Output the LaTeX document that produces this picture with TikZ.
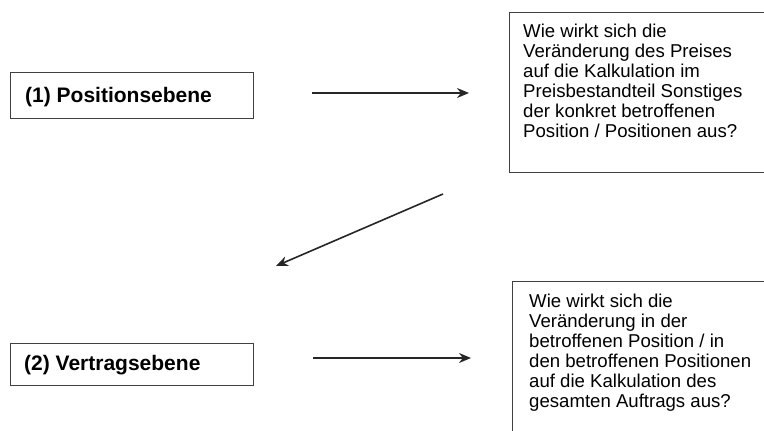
\documentclass[tikz,border=0pt]{standalone}
\usepackage{fontspec}
\setmainfont{Liberation Sans}
\usetikzlibrary{arrows.meta}
\begin{document}
\begin{tikzpicture}[x=1pt,y=-1pt,
  boxframe/.style={draw=black!75, line width=1.4pt, rectangle, inner sep=0pt},
  lefttext/.style={font=\fontsize{21}{24}\selectfont\bfseries, anchor=base west, inner sep=0pt},
  righttext/.style={font=\fontsize{18.6}{20}\selectfont, align=left, anchor=north west, inner sep=0pt},
  conn/.style={draw=black!85, line width=1.6pt, -{Stealth[length=12pt,width=10pt]}}
]
\useasboundingbox (0,0) rectangle (764,431);
% left boxes
\node[boxframe, anchor=north west, minimum width=243pt, minimum height=46pt] (b1) at (9.5,72) {};
\node[lefttext] (b1t) at (25,102) {(1) Positionsebene};
\node[boxframe, anchor=north west, minimum width=243pt, minimum height=42pt] (b2) at (9.5,343) {};
\node[lefttext] (b2t) at (24,370) {(2) Vertragsebene};
% right boxes
\node[boxframe, anchor=north west, minimum width=260pt, minimum height=160pt] (q1) at (509,12) {};
\node[righttext] (q1t) at (523,24) {Wie wirkt sich die\\Veränderung des Preises\\auf die Kalkulation im\\Preisbestandteil Sonstiges\\der konkret betroffenen\\Position / Positionen aus?};
\node[boxframe, anchor=north west, minimum width=260pt, minimum height=170pt] (q2) at (512,281) {};
\node[righttext] (q2t) at (529,294) {Wie wirkt sich die\\Veränderung in der\\betroffenen Position / in\\den betroffenen Positionen\\auf die Kalkulation des\\gesamten Auftrags aus?};
% connectors
\coordinate (a1s) at (312,93);
\coordinate (a1e) at (469,93);
\coordinate (a2s) at (313,358);
\coordinate (a2e) at (471,358);
\coordinate (a3s) at (443,194);
\coordinate (a3e) at (276,266);
\draw[conn] (a1s) -- (a1e);
\draw[conn] (a2s) -- (a2e);
\draw[conn] (a3s) -- (a3e);
\end{tikzpicture}
\end{document}
